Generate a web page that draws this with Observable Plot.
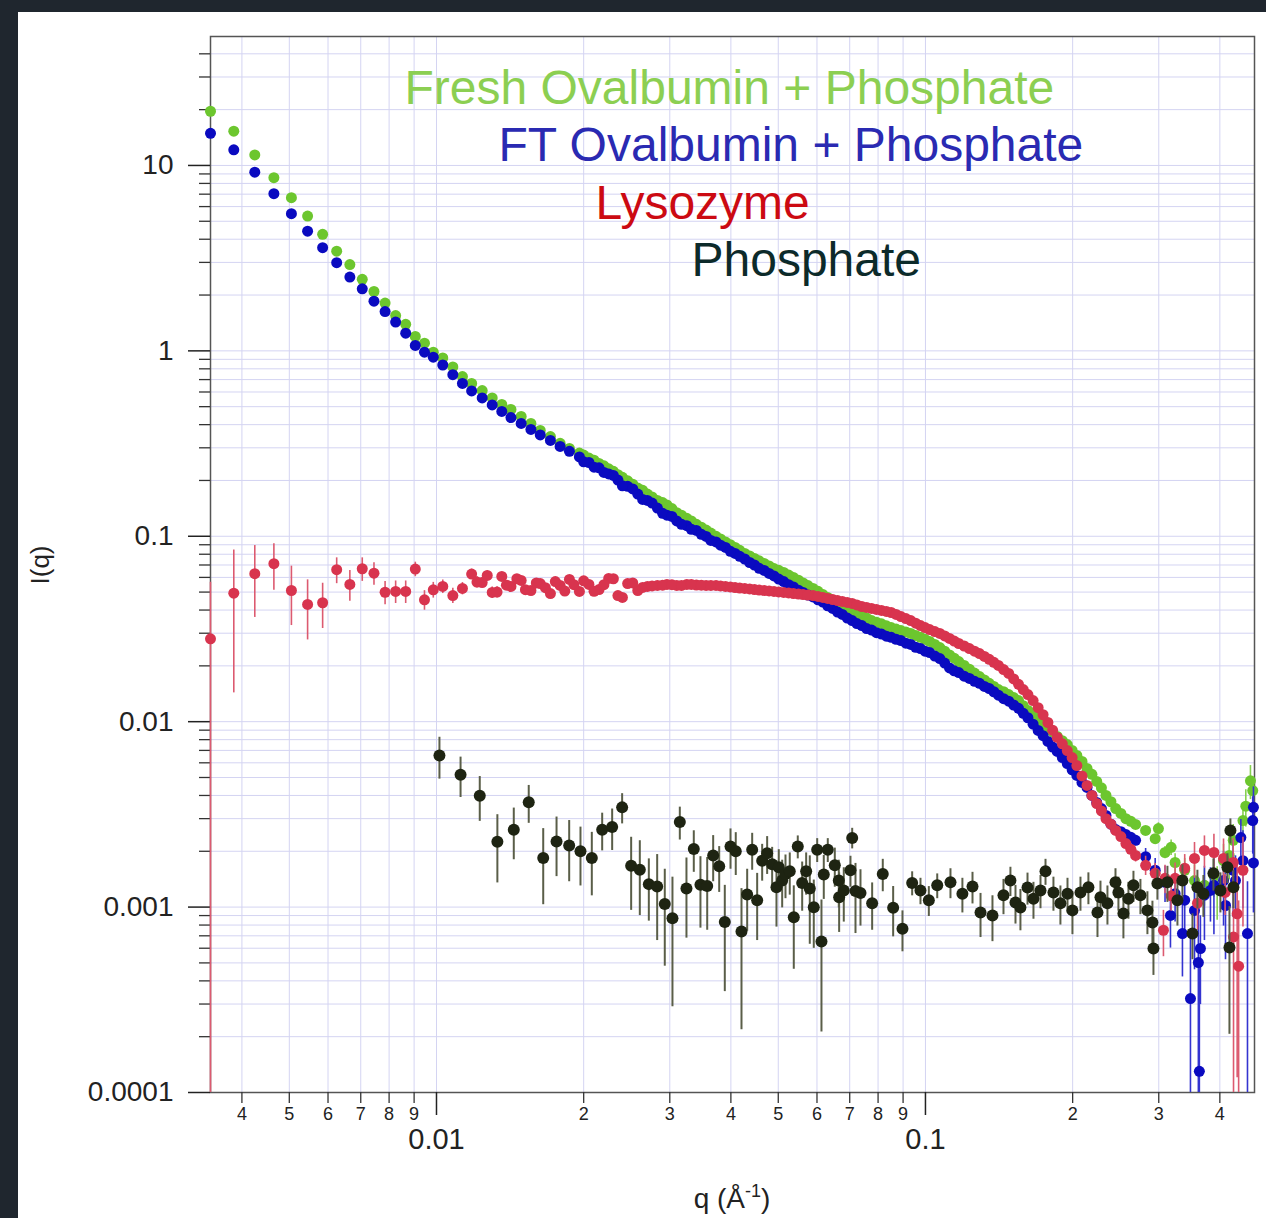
<!DOCTYPE html>
<html><head><meta charset="utf-8">
<script src="https://cdn.jsdelivr.net/npm/d3@7"></script>
<script src="https://cdn.jsdelivr.net/npm/@observablehq/plot@0.6"></script>
<style>
html,body{margin:0;padding:0;background:#1f262e;width:1266px;height:1218px;overflow:hidden;}
#wrap{position:absolute;left:18px;top:12px;width:1248px;height:1206px;background:#fff;}
</style></head><body><div id="wrap"></div>
<script>
// ---------- shared q grid (Å^-1) for the three protein curves ----------
const qGrid = [0.00345,0.00385,0.00425,0.00465,0.00505,0.00545,0.00585,0.00625,0.00665,0.00705,0.00745,0.00785,0.00825,0.00865,0.00905,0.00945,0.00985,
0.0103,0.0108,0.0113,0.0118,0.0124,0.013,0.0136,0.0142,0.0149,0.0156,0.0163,0.0171,0.0179,0.0187,0.0196,0.0205,0.0215,0.0225,0.0235,0.0246,0.0258,0.027,0.0283,0.0296,0.031,0.0325,0.034,0.0356,0.0373,0.039,0.0408,0.0427,0.0447,0.0468,0.049,0.0513,0.0537,0.0562,0.0589,0.0617,0.0646,0.0676,0.0708,0.0741,0.0776,0.0813,0.0851,0.0891,0.0933,0.0977,0.102,0.107,0.112,0.117,0.123,0.129,0.135,0.141,0.148,0.155,0.162,0.17,0.178,0.186,0.195,0.204,0.214,0.224,0.234,0.245,0.257,0.269,0.282,0.295,0.309,0.324,0.339,0.355,0.372,0.389,0.407,0.426,0.446,0.467];

// second set of q positions (interleaved points of the dense band)
const qBand = [0.02,0.021,0.022,0.023,0.024,0.0252,0.0264,0.0276,0.029,0.0303,0.0317,0.0332,0.0348,0.0364,0.0381,0.0399,0.0417,0.0437,0.0457,0.0479,0.0501,0.0525,0.055,0.0575,0.0603,0.0631,0.0661,0.0692,0.0724,0.0758,0.0794,0.0832,0.0871,0.0912,0.0955,0.0998,0.1045,0.1095,0.1145,0.12,0.126,0.132,0.138,0.1445,0.1515,0.1585,0.166,0.174,0.182,0.1905,0.1995,0.209,0.219,0.229,0.2395,0.251,0.263];

// Fresh Ovalbumin + Phosphate
const freshI = [19.6,15.3,11.4,8.59,6.70,5.33,4.25,3.45,2.92,2.43,2.09,1.81,1.55,1.39,1.196,1.10,0.984,
0.916,0.819,0.727,0.667,0.611,0.557,0.514,0.483,0.443,0.406,0.372,0.345,0.317,0.2975,0.281,0.264,0.247,0.231,0.215,0.199,0.182,0.169,0.156,0.1475,0.134,0.125,0.116,0.108,0.100,0.0932,0.0870,0.0808,0.0759,0.0713,0.0670,0.0638,0.0600,0.0560,0.0523,0.0485,0.0450,0.0426,0.0400,0.0374,0.0351,0.0337,0.0322,0.0310,0.0299,0.0285,0.0271,0.0251,0.0229,0.0211,0.0192,0.0175,0.0161,0.0149,0.0140,0.0130,0.0115,0.0101,0.00919,0.00832,0.00753,0.00657,0.00559,0.00476,0.00400,0.00340,0.00300,0.00279,0.00259,0.00234,0.00197,0.00174,0.00158,0.00139,0.00131,0.00148,0.00178,0.00229,0.00293,0.00425];
const freshBandI = [0.274,0.257,0.240,0.224,0.208,0.191,0.177,0.163,0.152,0.141,0.130,0.121,0.112,0.104,0.0967,0.0900,0.0840,0.0783,0.0737,0.0692,0.0655,0.0618,0.0580,0.0542,0.0505,0.0468,0.0438,0.0413,0.0386,0.0362,0.0344,0.0329,0.0316,0.0305,0.0292,0.0278,0.0261,0.0240,0.0220,0.0201,0.0183,0.0168,0.0155,0.0145,0.0135,0.0122,0.0108,0.0096,0.0088,0.0079,0.0070,0.0061,0.0052,0.0044,0.0037,0.0032,0.0029];
const freshErrQ = [0.282,0.295,0.309,0.324,0.339,0.355,0.372,0.389,0.407,0.426,0.446,0.467];
const freshErr  = [0.0001,0.00012,0.00015,0.0002,0.00025,0.0003,0.0003,0.00035,0.0004,0.0005,0.0006,0.0008];
const freshExtraQ = [0.2995,0.318,0.395,0.418,0.452,0.462];
const freshExtraI = [0.00265,0.0021,0.00125,0.0019,0.0035,0.0048];
const freshExtraErr = [0.0002,0.0002,0.0004,0.0005,0.0008,0.001];

// FT Ovalbumin + Phosphate
const ftI = [14.9,12.15,9.20,7.04,5.49,4.42,3.60,2.99,2.50,2.16,1.854,1.63,1.43,1.246,1.07,0.984,0.925,
0.839,0.744,0.667,0.608,0.557,0.511,0.471,0.437,0.406,0.377,0.352,0.329,0.305,0.287,0.268,0.250,0.234,0.217,0.201,0.186,0.169,0.156,0.142,0.130,0.121,0.114,0.1075,0.0998,0.0932,0.0870,0.0808,0.0754,0.0700,0.0654,0.0611,0.0570,0.0533,0.0498,0.0471,0.0442,0.0408,0.0379,0.0351,0.0330,0.0312,0.0297,0.0285,0.0274,0.0261,0.0248,0.0236,0.0219,0.0195,0.0184,0.0171,0.0161,0.0151,0.0139,0.0129,0.0118,0.0105,0.00897,0.00782,0.00691,0.00595,0.00513,0.00442,0.00367,0.00312,0.00262,0.00246,0.00229,0.00187,0.00158,0.00136,0.00118,0.00109,0.000959,0.00116,0.00131,0.00139,0.00158,0.00178,0.00293];
const ftBandI = [0.252,0.236,0.221,0.213,0.187,0.180,0.158,0.151,0.133,0.128,0.116,0.109,0.1025,0.0950,0.0895,0.0830,0.0780,0.0722,0.0672,0.0630,0.0588,0.0548,0.0512,0.0482,0.0454,0.0422,0.0390,0.0362,0.0338,0.0318,0.0302,0.0289,0.0278,0.0265,0.0252,0.0240,0.0226,0.0207,0.0188,0.0176,0.0165,0.0155,0.0145,0.0133,0.0123,0.0111,0.0097,0.0084,0.0073,0.0064,0.0055,0.0047,0.0040,0.0034,0.0028,0.00255,0.00238];
const ftErrQ = [0.234,0.245,0.257,0.269,0.282,0.295,0.309,0.324,0.339,0.355,0.372,0.389,0.407,0.426,0.446,0.467];
const ftErr  = [0.0001,0.0001,0.00012,0.00015,0.0002,0.00025,0.0003,0.00035,0.0004,0.0005,0.0005,0.0006,0.0006,0.0007,0.0008,0.001];
const ftExtraQ = [0.317,0.3354,0.3483,0.3615,0.3632,0.365,0.3827,0.4108,0.4306,0.4416,0.4556,0.4686,0.4686];
const ftExtraI = [0.000901,0.00072,0.000321,0.000502,0.00013,0.000598,0.00123,0.00102,0.00139,0.00237,0.00072,0.00345,0.00173];
const ftExtraErr = [0.0003,0.0003,0.0004,0.00045,0.0004,0.0003,0.0004,0.0005,0.0005,0.0006,0.00065,0.001,0.0008];

// Lysozyme
const lysoI = [0.0280,0.0493,0.0628,0.0711,0.0510,0.0429,0.0438,0.0660,0.0550,0.0668,0.0632,0.0499,0.0504,0.0504,0.0665,0.0454,0.0514,
0.0536,0.0479,0.0523,0.0625,0.0563,0.0498,0.0607,0.0536,0.0578,0.0510,0.0556,0.0491,0.0543,0.0585,0.0504,0.0550,0.0516,0.0592,0.0479,0.0556,0.0510,0.0536,0.0543,0.0550,0.0543,0.0550,0.0546,0.0543,0.0543,0.0536,0.0529,0.0523,0.0516,0.0510,0.0504,0.0498,0.0491,0.0485,0.0479,0.0468,0.0456,0.0445,0.0434,0.0418,0.0408,0.0398,0.0388,0.0369,0.0351,0.0330,0.0314,0.0299,0.0281,0.0264,0.0248,0.0233,0.0217,0.0201,0.0182,0.0159,0.0140,0.0119,0.0099,0.00822,0.00699,0.0058,0.00453,0.00362,0.00300,0.00259,0.0022,0.0019,0.00168,0.00152,0.00143,0.00143,0.00162,0.00183,0.00202,0.00197,0.00183,0.00174,0.00158,null];
const lysoBandI = [0.0575,0.0505,0.0548,0.0590,0.0468,0.0560,0.0530,0.0540,0.0545,0.0548,0.0543,0.0550,0.0545,0.0543,0.0540,0.0533,0.0526,0.0520,0.0513,0.0507,0.0501,0.0495,0.0488,0.0482,0.0474,0.0462,0.0450,0.0440,0.0426,0.0413,0.0403,0.0393,0.0379,0.0360,0.0340,0.0322,0.0306,0.0290,0.0272,0.0256,0.0240,0.0225,0.0209,0.0191,0.0170,0.0149,0.0130,0.0109,0.0090,0.0076,0.0064,0.0051,0.0040,0.0033,0.0028,0.0024,0.00205];
const lysoErrQ = [0.00345,0.00385,0.00425,0.00465,0.00505,0.00545,0.00585,0.00625,0.00665,0.00705,0.00745,0.00785,0.00825,0.00865,0.00905,0.00945,0.00985,0.0103,0.0108,0.0113,0.0118,0.0124,0.013,0.0136,0.0142,0.0149,0.0156,0.0163,0.0171,0.257,0.269,0.282,0.295,0.309,0.324,0.339,0.355,0.372,0.389,0.407,0.426,0.446];
const lysoErr  = [0.0285,0.035,0.0263,0.020,0.018,0.0153,0.012,0.0105,0.0104,0.0097,0.0088,0.0072,0.007,0.007,0.006,0.0055,0.005,0.0045,0.0045,0.004,0.004,0.0035,0.0035,0.003,0.003,0.0025,0.0025,0.002,0.002,0.0001,0.00015,0.0002,0.0002,0.00025,0.0003,0.0003,0.0004,0.0004,0.0005,0.0005,0.0006,0.0008];
const lysoExtraQ = [0.0121,0.0127,0.0133,0.0139,0.0146,0.0152,0.016,0.0167,0.0175,0.0183,0.0191,0.3067,0.318,0.36,0.41,0.4266,0.434,0.437];
const lysoExtraI = [0.0566,0.0615,0.0500,0.0545,0.0590,0.0515,0.0560,0.0528,0.0570,0.0506,0.0548,0.00075,0.00115,0.00105,0.0012,0.00069,0.00092,0.00048];
const lysoExtraErr = [0.004,0.0035,0.0035,0.003,0.003,0.0025,0.0025,0.002,0,0,0,0.00021,0.0002,0.0003,0.0003,0.0006,0.0008,0.0006];

// Phosphate
const phosQ = [0.01014,0.0112,0.01226,0.01332,0.01439,0.01544,0.01653,0.0176,0.01868,0.0197,0.02078,0.02182,0.02287,0.02397,0.02501,0.02605,0.02718,0.02827,0.0293,0.03038,0.03145,0.03245,0.03359,0.03466,0.03578,0.0368,0.03786,0.03887,0.03993,0.04093,0.04205,0.04319,0.04422,0.04527,0.04635,0.04745,0.04858,0.04958,0.05012,0.05093,0.05173,0.05278,0.05379,0.05481,0.05596,0.05702,0.058,0.0591,0.06006,0.06128,0.06195,0.06313,0.06525,0.06649,0.0666,0.06807,0.07025,0.07082,0.07193,0.07364,0.0778,0.08179,0.08589,0.08974,0.09393,0.09768,0.1016,0.1057,0.1125,0.119,0.1248,0.1296,0.1371,0.1444,0.1492,0.1528,0.1564,0.1617,0.1663,0.1719,0.176,0.1827,0.1888,0.1952,0.1998,0.2075,0.2154,0.2248,0.228,0.2356,0.2447,0.2481,0.254,0.2601,0.2663,0.2752,0.2844,0.2912,0.2926,0.2981,0.3125,0.3276,0.3354,0.3516,0.3599,0.3702,0.3881,0.4011,0.4145,0.4204,0.4185,0.4264];
const phosI = [0.00657,0.00517,0.00398,0.00225,0.00261,0.00368,0.00184,0.00226,0.00215,0.002,
0.00184,0.00261,0.0027,0.00345,0.00167,0.00159,0.00133,0.00129,0.00104,0.00087,
0.00288,0.00126,0.00206,0.00132,0.0013,0.0019,0.00166,0.00083,0.00212,0.002,
0.000738,0.00117,0.00204,0.00109,0.00178,0.00195,0.0017,0.00128,0.00164,0.00139,
0.00151,0.00156,0.000882,0.00212,0.00135,0.00156,0.00126,0.000999,0.00204,0.000652,
0.0015,0.00204,0.00168,0.00139,0.00113,0.00123,0.00158,0.00236,0.00122,0.00119,
0.00105,0.00151,0.000991,0.000764,0.00135,0.00123,0.00109,0.00131,0.00136,0.00118,
0.00129,0.000935,0.000901,0.00116,0.00139,0.00106,0.000995,0.001275,0.00111,0.00123,
0.00156,0.0012,0.00105,0.00118,0.00096,0.0012,0.00128,0.000935,0.00113,0.00105,
0.00136,0.0012,0.000924,0.00111,0.00131,0.00116,0.00096,0.000826,0.000598,0.00134,
0.00136,0.00109,0.00139,0.00072,0.00128,0.00118,0.00152,0.00123,0.00164,0.00259,0.000606,0.00128];
const phosErr = [0.00167,0.00127,0.00108,0.0009,0.00081,0.00085,0.00081,0.0008,0.00078,0.0007,
0.00069,0.0006,0.00068,0.00064,0.00071,0.00069,0.00049,0.00063,0.00056,0.00058,
0.00058,0.00058,0.00052,0.00055,0.00055,0.00053,0.00046,0.00048,0.00052,0.00052,
0.00052,0.00043,0.00046,0.00043,0.0004,0.00045,0.0004,0.0005,0.0004,0.0004,
0.0004,0.0004,0.00042,0.0003,0.0004,0.0004,0.00063,0.0004,0.0003,0.00044,
0.0004,0.0003,0.0004,0.0004,0.0004,0.0004,0.0003,0.0003,0.0005,0.0004,
0.0003,0.0003,0.0003,0.00019,0.0002,0.0002,0.0002,0.0002,0.00025,0.00025,
0.00025,0.00025,0.00025,0.00025,0.00025,0.00025,0.00025,0.00025,0.00025,0.00025,
0.00025,0.00025,0.00025,0.00025,0.00025,0.00025,0.00025,0.00025,0.00025,0.00025,
0.00025,0.00025,0.00025,0.00025,0.00025,0.00025,0.00025,0.00025,0.00017,0.00025,
0.0003,0.0003,0.0003,0.0002,0.0003,0.0003,0.0003,0.0003,0.0003,0.0004,0.0004,0.0003];

// ---------- ticks ----------
const yMajor = [0.0001,0.001,0.01,0.1,1,10];
const yMajorLabels = ["0.0001","0.001","0.01","0.1","1","10"];
const minorMult = [2,3,4,5,6,7,8,9];
const xMajor = [0.01,0.1];
const xMajorLabels = ["0.01","0.1"];
const xMinor = [0.004,0.005,0.006,0.007,0.008,0.009,0.02,0.03,0.04,0.05,0.06,0.07,0.08,0.09,0.2,0.3,0.4];
const xMinorLabels = ["4","5","6","7","8","9","2","3","4","5","6","7","8","9","2","3","4"];

const Y_MIN = 0.0001, Y_MAX = 49.6, X_MIN = 0.00345, X_MAX = 0.4709;
const yMinor = yMajor.flatMap(d => minorMult.map(m => d * m)).filter(v => v < Y_MAX);

// ---------- tables ----------
function grid(Is, eQ, eV) {
  const em = new Map(eQ.map((q, i) => [q, eV[i]]));
  return qGrid.map((q, i) => ({q, I: Is[i], e: em.get(q) || 0})).filter(d => d.I != null);
}
function extra(qs, Is, es) { return qs.map((q, i) => ({q, I: Is[i], e: es ? es[i] : 0})); }

const fresh = grid(freshI, freshErrQ, freshErr).concat(extra(qBand, freshBandI), extra(freshExtraQ, freshExtraI, freshExtraErr));
const ft = grid(ftI, ftErrQ, ftErr).concat(extra(qBand, ftBandI), extra(ftExtraQ, ftExtraI, ftExtraErr));
const lyso = grid(lysoI, lysoErrQ, lysoErr).concat(extra(qBand, lysoBandI), extra(lysoExtraQ, lysoExtraI, lysoExtraErr));
const phos = extra(phosQ, phosI, phosErr).filter(d => d.I != null && d.q != null);

const yLab = new Map(yMajor.map((d, i) => [d, yMajorLabels[i]]));
const xLab = new Map(xMajor.map((d, i) => [d, xMajorLabels[i]]));
const xMinTicks = xMinor.map((d, i) => ({q: d, label: xMinorLabels[i]}));

function errBars(data, color, w) {
  return Plot.ruleX(data.filter(d => d.e > 0), {
    x: "q", y1: d => Math.max(d.I - d.e, Y_MIN), y2: d => Math.min(d.I + d.e, Y_MAX),
    stroke: color, strokeWidth: w
  });
}

const FONT = "'Liberation Sans', Arial, Helvetica, sans-serif";
const chart = Plot.plot({
  width: 1248, height: 1206,
  marginLeft: 192, marginTop: 24, marginRight: 12, marginBottom: 126,
  style: {fontFamily: FONT, background: "transparent", overflow: "visible"},
  x: {type: "log", domain: [X_MIN, X_MAX], axis: null},
  y: {type: "log", domain: [Y_MIN, Y_MAX], axis: null},
  marks: [
    Plot.ruleX(xMinor.concat(xMajor), {stroke: "#d4d4f2", strokeWidth: 1}),
    Plot.ruleY(yMinor.concat(yMajor), {stroke: "#d4d4f2", strokeWidth: 1}),
    Plot.frame({stroke: "#555", strokeWidth: 1.5}),
    Plot.axisY(yMajor, {anchor: "left", tickSize: 22, tickPadding: 15, fontSize: 28, tickFormat: d => yLab.get(d), color: "#222", strokeWidth: 1.5, label: null}),
    Plot.axisY(yMinor, {anchor: "left", tickSize: 11, tickFormat: () => "", color: "#333", strokeWidth: 1.3, label: null}),
    Plot.axisX(xMajor, {anchor: "bottom", tickSize: 23, tickPadding: 13, fontSize: 29, tickFormat: d => xLab.get(d), color: "#222", strokeWidth: 1.5, label: null}),
    Plot.axisX(xMinor, {anchor: "bottom", tickSize: 11, tickFormat: () => "", color: "#333", strokeWidth: 1.3, label: null}),
    Plot.text(xMinTicks, {x: "q", text: "label", frameAnchor: "bottom", lineAnchor: "top", dy: 15, fontSize: 18, fill: "#222"}),

    errBars(fresh, "#86d050", 1.6),
    Plot.dot(fresh, {x: "q", y: "I", r: 5.5, fill: "#6cc62e"}),
    errBars(ft, "#3434d0", 1.6),
    Plot.dot(ft, {x: "q", y: "I", r: 5.5, fill: "#0a0ac0"}),
    errBars(lyso, "#dc5a70", 1.6),
    Plot.dot(lyso, {x: "q", y: "I", r: 5.5, fill: "#d8344e"}),
    errBars(phos, "#5a5e48", 2),
    Plot.dot(phos, {x: "q", y: "I", r: 6, fill: "#1e2412"}),

    Plot.text(["Fresh Ovalbumin + Phosphate"], {frameAnchor: "top-left", lineAnchor: "top", dx: 194, dy: 33, textAnchor: "start", fontSize: 48, fill: "#8ccf52"}),
    Plot.text(["FT Ovalbumin + Phosphate"], {frameAnchor: "top-left", lineAnchor: "top", dx: 288, dy: 90, textAnchor: "start", fontSize: 48, fill: "#2a2ab2"}),
    Plot.text(["Lysozyme"], {frameAnchor: "top-left", lineAnchor: "top", dx: 385, dy: 148, textAnchor: "start", fontSize: 48, fill: "#cc0a12"}),
    Plot.text(["Phosphate"], {frameAnchor: "top-left", lineAnchor: "top", dx: 481, dy: 205, textAnchor: "start", fontSize: 48, fill: "#0c2a2a"})
  ]
});

document.getElementById("wrap").appendChild(chart);

const svg = d3.select(chart);
const xl = svg.append("text").attr("x", 714).attr("y", 1196).attr("text-anchor", "middle")
  .attr("font-size", 28).attr("fill", "#222").attr("font-family", FONT);
xl.append("tspan").text("q (Å");
xl.append("tspan").attr("dy", -11).attr("font-size", 18).text("-1");
xl.append("tspan").attr("dy", 11).text(")");
svg.append("text").attr("transform", "translate(22,553) rotate(-90)").attr("text-anchor", "middle")
  .attr("dy", "0.35em").attr("font-size", 26).attr("fill", "#222")
  .attr("font-family", FONT).text("I(q)");
</script>
</body></html>
